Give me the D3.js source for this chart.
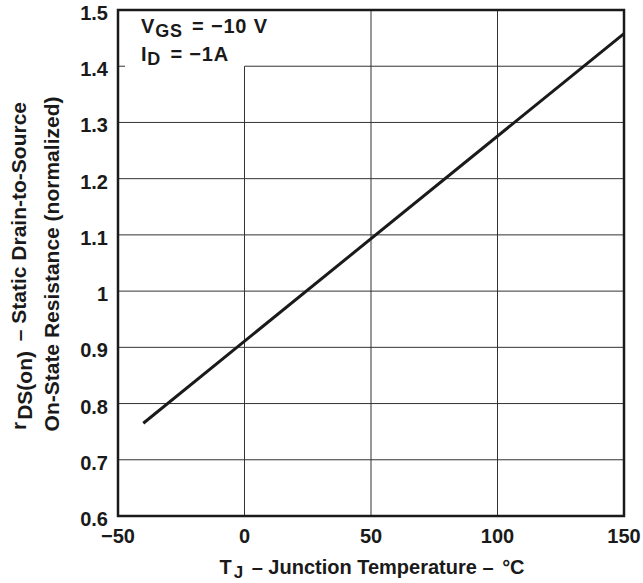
<!DOCTYPE html>
<html lang="en">
<head>
<meta charset="utf-8">
<title>rDS(on) vs Junction Temperature</title>
<script src="https://cdn.jsdelivr.net/npm/d3@7"></script>
<style>
  body { margin: 0; background: #fff; }
  text { font-family: "Liberation Sans", Arial, sans-serif; font-weight: bold; fill: #1a1a1a; }
</style>
</head>
<body>
<script>
// data
var tempC = [-40, 150];
var rdsNorm = [0.765, 1.458];
var xTicks = [-50, 0, 50, 100, 150];
var yTicks = [0.6, 0.7, 0.8, 0.9, 1, 1.1, 1.2, 1.3, 1.4, 1.5];

var width = 643, height = 583;
var plotL = 118, plotR = 624, plotT = 10, plotB = 516;

var svg = d3.select("body").append("svg")
    .attr("width", width)
    .attr("height", height);

var x = d3.scaleLinear().domain([-50, 150]).range([plotL, plotR]);
var y = d3.scaleLinear().domain([0.6, 1.5]).range([plotB, plotT]);

// grid
var grid = svg.append("g");
grid.selectAll(".vg").data(xTicks.slice(1, -1)).enter().append("line")
    .attr("x1", d => x(d)).attr("x2", d => x(d))
    .attr("y1", d => d == 0 ? y(1.4) : plotT)
    .attr("y2", plotB)
    .attr("stroke", "#333").attr("stroke-width", 1);
grid.selectAll(".hg").data(yTicks.slice(1, -1)).enter().append("line")
    .attr("x1", d => d == 1.4 ? x(0) : plotL)
    .attr("x2", plotR)
    .attr("y1", d => y(d)).attr("y2", d => y(d))
    .attr("stroke", "#333").attr("stroke-width", 1);

// small tick on left axis where grid is hidden by legend
svg.append("line")
    .attr("x1", plotL).attr("x2", plotL + 7)
    .attr("y1", y(1.4)).attr("y2", y(1.4))
    .attr("stroke", "#333").attr("stroke-width", 1);

// frame
svg.append("rect")
    .attr("x", plotL).attr("y", plotT)
    .attr("width", plotR - plotL).attr("height", plotB - plotT)
    .attr("fill", "none").attr("stroke", "#1a1a1a").attr("stroke-width", 2.5);

// curve
var line = d3.line().x(d => x(d[0])).y(d => y(d[1]));
svg.append("path")
    .datum(tempC.map((t, i) => [t, rdsNorm[i]]))
    .attr("d", line)
    .attr("fill", "none").attr("stroke", "#1a1a1a").attr("stroke-width", 3);

// tick labels
svg.selectAll(".yl").data(yTicks).enter().append("text")
    .attr("x", plotL - 10).attr("y", d => y(d) + 10)
    .attr("text-anchor", "end")
    .style("font-size", "20px")
    .text(d => d == 1 ? "1" : d.toFixed(1));

svg.selectAll(".xl").data(xTicks).enter().append("text")
    .attr("x", d => x(d)).attr("y", plotB + 27)
    .attr("text-anchor", "middle")
    .style("font-size", "20px")
    .text(d => d < 0 ? "\u2212" + Math.abs(d) : d);

// legend
var leg = svg.append("text").attr("x", 141).attr("y", 33)
    .style("font-size", "20px").style("letter-spacing", "0.8px");
leg.append("tspan").text("V");
leg.append("tspan").attr("dy", 4).style("font-size", "18px").text("GS");
leg.append("tspan").attr("dy", -4).attr("dx", 3).text(" = \u221210 V");

var leg2 = svg.append("text").attr("x", 141).attr("y", 61)
    .style("font-size", "20px").style("letter-spacing", "0.8px");
leg2.append("tspan").text("I");
leg2.append("tspan").attr("dy", 4).style("font-size", "18px").text("D");
leg2.append("tspan").attr("dy", -4).attr("dx", 3).text(" = \u22121A");

// x axis title
var xt = svg.append("text")
    .attr("x", 372).attr("y", 574)
    .attr("text-anchor", "middle")
    .style("font-size", "20px");
xt.append("tspan").text("T");
xt.append("tspan").attr("dy", 4).attr("dx", 2).style("font-size", "17px").text("J");
xt.append("tspan").attr("dy", -4).attr("dx", 3).text(" \u2013 Junction Temperature \u2013 ");
xt.append("tspan").attr("dx", 3).text("\u00b0C");

// y axis title
var yt = svg.append("text")
    .attr("transform", "translate(26,266) rotate(-90)")
    .attr("text-anchor", "middle")
    .style("font-size", "21px");
yt.append("tspan").text("r");
yt.append("tspan").attr("dy", 6).attr("dx", 2).text("DS(on)");
yt.append("tspan").attr("dy", -6).attr("dx", 4).text("  \u2013 Static Drain-to-Source");

svg.append("text")
    .attr("transform", "translate(59,264) rotate(-90)")
    .attr("text-anchor", "middle")
    .style("font-size", "21px")
    .text("On-State Resistance (normalized)");
</script>
</body>
</html>
